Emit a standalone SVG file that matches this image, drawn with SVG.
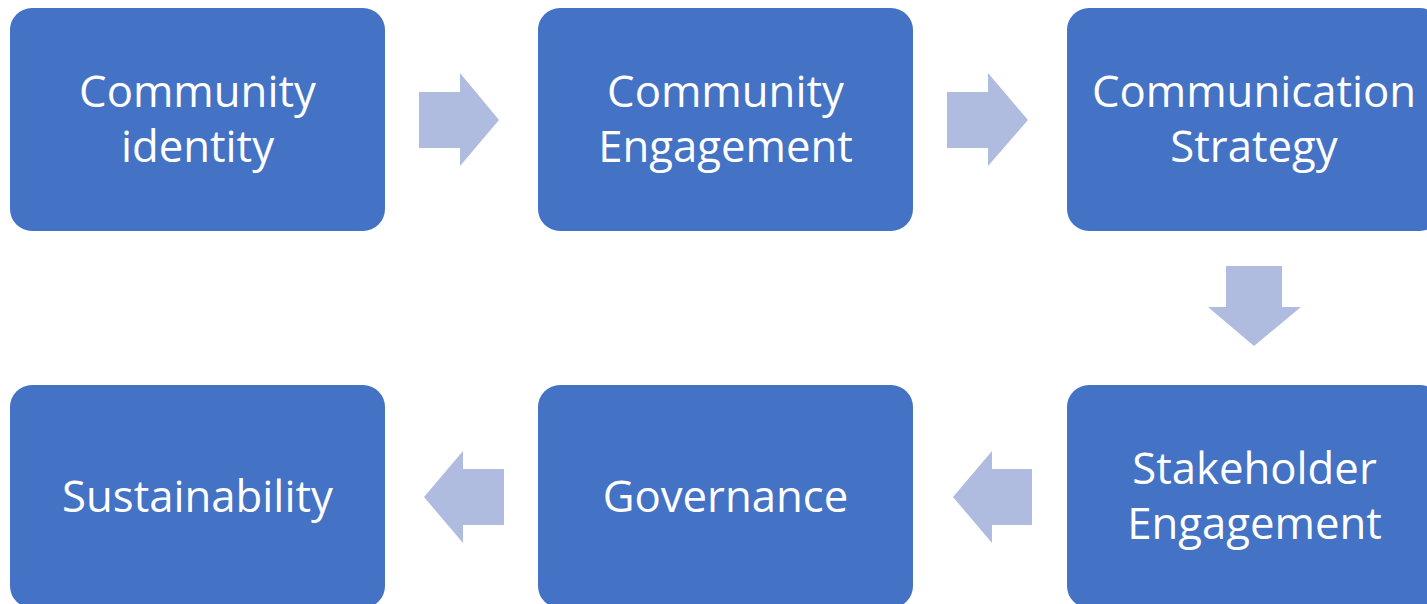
<svg xmlns="http://www.w3.org/2000/svg" width="1427" height="604" viewBox="0 0 1427 604">
<style>
.box{fill:#4472C4;}
.arr{fill:#AFBCDF;}
.t{font-family:"Open Sans","Noto Sans","DejaVu Sans",sans-serif;font-size:43.7px;fill:#FFFFFF;text-anchor:middle;}
</style>
<rect width="1427" height="604" fill="#FFFFFF"/>
<g id="connectors">
<polygon class="arr" points="419,92 460,92 460,73 499,120 460,166 460,148 419,148"/>
<polygon class="arr" points="947,92 988,92 988,73 1028,120 988,166 988,148 947,148"/>
<polygon class="arr" points="1226,266 1282,266 1282,307 1301,307 1254,346 1208,307 1226,307"/>
<polygon class="arr" points="1032,469 992,469 992,451 953,497 992,543 992,525 1032,525"/>
<polygon class="arr" points="504,469 463,469 463,451 424,497 463,543 463,525 504,525"/>
</g>
<g id="node-community-identity">
<rect class="box" x="10" y="8" width="375" height="223" rx="22"/>
<text class="t" x="197.5" y="106.7">Community</text>
<text class="t" x="197.5" y="162.3">identity</text>
</g>
<g id="node-community-engagement">
<rect class="box" x="538" y="8" width="375" height="223" rx="22"/>
<text class="t" x="725.5" y="106.7">Community</text>
<text class="t" x="725.5" y="162.3">Engagement</text>
</g>
<g id="node-communication-strategy">
<rect class="box" x="1067" y="8" width="375" height="223" rx="22"/>
<text class="t" x="1254" y="106.7">Communication</text>
<text class="t" x="1254" y="162.3">Strategy</text>
</g>
<g id="node-stakeholder-engagement">
<rect class="box" x="1067" y="385" width="375" height="223" rx="22"/>
<text class="t" x="1254.5" y="483.5">Stakeholder</text>
<text class="t" x="1254.5" y="539.1">Engagement</text>
</g>
<g id="node-governance">
<rect class="box" x="538" y="385" width="375" height="223" rx="22"/>
<text class="t" x="725.5" y="511.5">Governance</text>
</g>
<g id="node-sustainability">
<rect class="box" x="10" y="385" width="375" height="223" rx="22"/>
<text class="t" x="197.5" y="511.5">Sustainability</text>
</g>
</svg>
